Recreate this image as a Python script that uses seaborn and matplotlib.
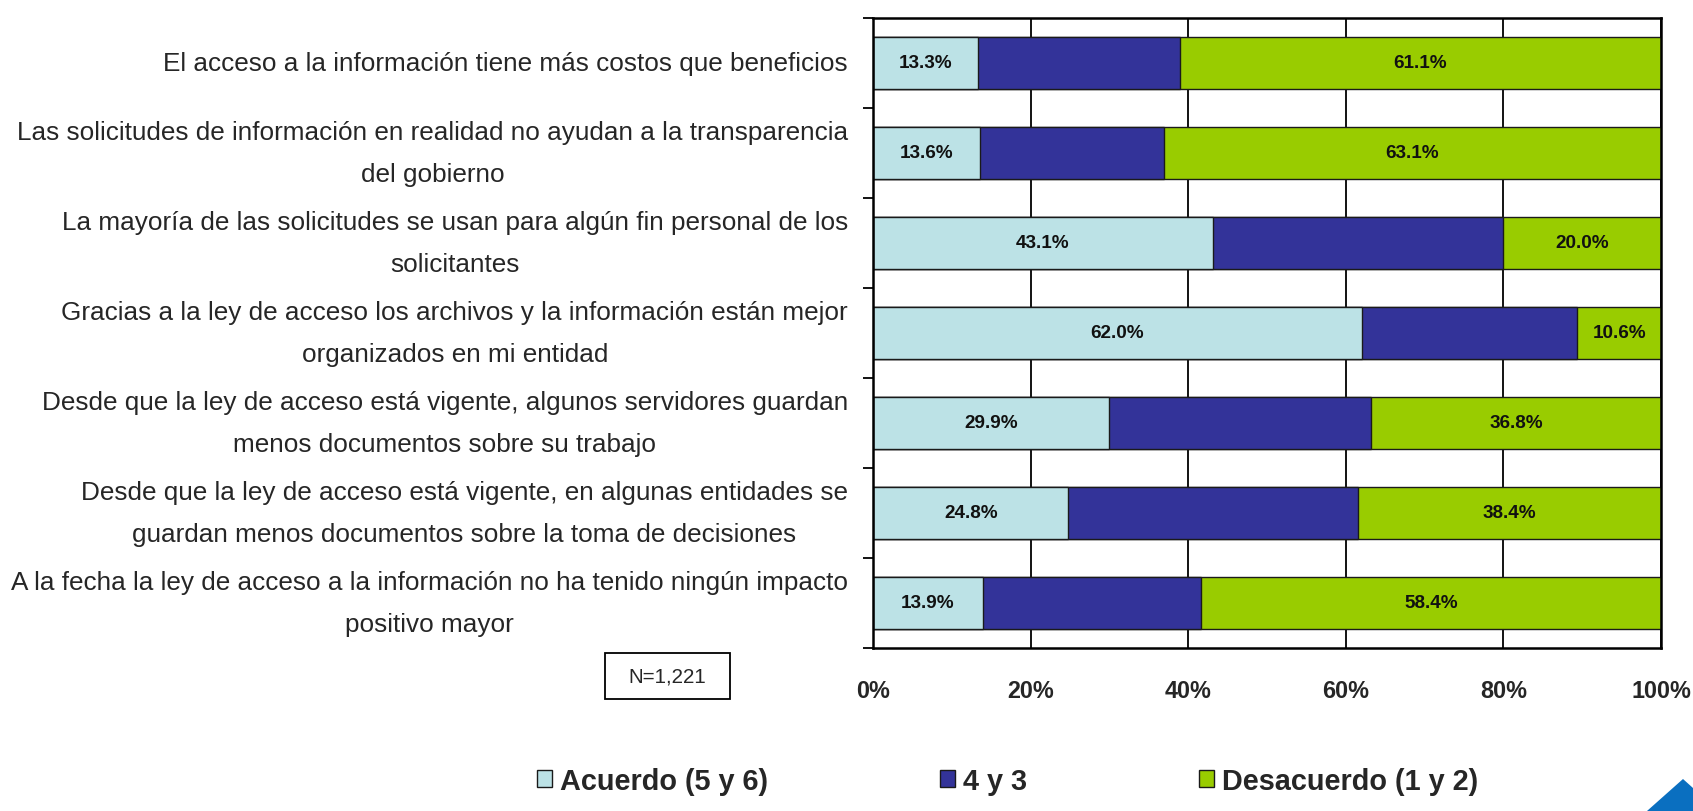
import numpy as np
import pandas as pd
import matplotlib
matplotlib.use("Agg")
import matplotlib.pyplot as plt
import seaborn as sns
from matplotlib import font_manager as fm
from matplotlib.patches import Rectangle, Polygon, Patch

# ---------------- data ----------------
categories = [
    "El acceso a la información tiene más costos que beneficios",
    "Las solicitudes de información en realidad no ayudan a la transparencia\ndel gobierno",
    "La mayoría de las solicitudes se usan para algún fin personal de los\nsolicitantes",
    "Gracias a la ley de acceso los archivos y la información están mejor\norganizados en mi entidad",
    "Desde que la ley de acceso está vigente, algunos servidores guardan\nmenos documentos sobre su trabajo",
    "Desde que la ley de acceso está vigente, en algunas entidades se\nguardan menos documentos sobre la toma de decisiones",
    "A la fecha la ley de acceso a la información no ha tenido ningún impacto\npositivo mayor",
]
acuerdo = [13.3, 13.6, 43.1, 62.0, 29.9, 24.8, 13.9]
medio = [25.6, 23.3, 36.9, 27.4, 33.3, 36.8, 27.7]
desacuerdo = [61.1, 63.1, 20.0, 10.6, 36.8, 38.4, 58.4]
series_names = ["Acuerdo (5 y 6)", "4 y 3", "Desacuerdo (1 y 2)"]
xticks = [0, 20, 40, 60, 80, 100]
xtick_labels = ["0%", "20%", "40%", "60%", "80%", "100%"]
n_label = "N=1,221"

LIGHT = "#BCE2E6"
BLUE = "#333399"
GREEN = "#99CC00"
EDGE = "#1a1a1a"

# ---------------- style ----------------
sns.set_theme(style="white")
names = {f.name for f in fm.fontManager.ttflist}
narrow = "Liberation Sans Narrow" in names
FONT = "Liberation Sans Narrow" if narrow else "Liberation Sans"
sc = 1.19 if narrow else 1.0
plt.rcParams["font.family"] = [FONT, "DejaVu Sans"]

df = pd.DataFrame({"cat": categories, "a": acuerdo, "m": medio, "d": desacuerdo})
df["am"] = df["a"] + df["m"]
df["amd"] = df["am"] + df["d"]

W, H = 1693, 812
fig = plt.figure(figsize=(W / 100, H / 100), dpi=100)
ax = fig.add_axes([873 / W, 1 - 649 / H, (1661 - 873) / W, (649 - 19) / H])

for col, color in [("amd", GREEN), ("am", BLUE), ("a", LIGHT)]:
    sns.barplot(data=df, x=col, y="cat", order=categories, color=color,
                saturation=1, width=0.57, edgecolor=EDGE, linewidth=1,
                errorbar=None, orient="h", ax=ax)

# value labels
ax.bar_label(ax.containers[2], labels=[f"{v:.1f}%" for v in acuerdo],
             label_type="center", fontsize=13.6 * sc, fontweight="bold", color="#111111")
for i, (am, d) in enumerate(zip(df["am"], df["d"])):
    ax.text(am + d / 2, i, f"{d:.1f}%", ha="center", va="center",
            fontsize=13.6 * sc, fontweight="bold", color="#111111")

ax.set_xlim(0, 100)
ax.set_xlabel("")
ax.set_ylabel("")
ax.set_xticks(xticks, xtick_labels)
ax.tick_params(axis="x", length=0, pad=22, labelsize=16.8 * sc)
for lab in ax.get_xticklabels():
    lab.set_fontweight("bold")

ax.set_yticks(range(len(categories)))
ax.set_yticklabels(categories, fontsize=18.8 * sc)
for lab in ax.get_yticklabels():
    lab.set_multialignment("center")
    lab.set_linespacing(1.9)
    lab.set_verticalalignment("center")
ax.set_yticks(np.arange(-0.5, len(categories), 1.0), minor=True)
ax.tick_params(axis="y", which="major", length=0, pad=18, left=False)
ax.tick_params(axis="y", which="minor", length=7.5, width=1.3, color="black", left=True)

ax.xaxis.grid(True, color="black", linewidth=1.3)
ax.yaxis.grid(False)
ax.set_axisbelow(True)
for s in ax.spines.values():
    s.set_visible(True)
    s.set_color("black")
    s.set_linewidth(1.8)

# legend
handles = [Patch(facecolor=c, edgecolor=EDGE, linewidth=1) for c in (LIGHT, BLUE, GREEN)]
fig.legend(handles, series_names, loc="center left",
           bbox_to_anchor=(537 / W, 1 - 782 / H), ncol=3, frameon=False,
           prop={"weight": "bold", "size": 20.8 * sc, "family": [FONT, "DejaVu Sans"]},
           handlelength=0.52, handleheight=0.52, handletextpad=0.28,
           columnspacing=5.95, borderpad=0, borderaxespad=0)

# N box
fig.patches.append(Rectangle((605 / W, 1 - 700 / H), 125 / W, 46 / H,
                             transform=fig.transFigure, facecolor="white",
                             edgecolor="black", linewidth=1.3))
fig.text(667.5 / W, 1 - 677 / H, n_label, ha="center", va="center", fontsize=14.8 * sc)

# corner logo fragment
pts = [(1647, 812), (1683, 780), (1693, 789), (1693, 812)]
fig.patches.append(Polygon([(x / W, 1 - y / H) for x, y in pts], closed=True,
                           transform=fig.transFigure, facecolor="#0A6FC0",
                           edgecolor="none"))

fig.savefig("out.png", dpi=100)
